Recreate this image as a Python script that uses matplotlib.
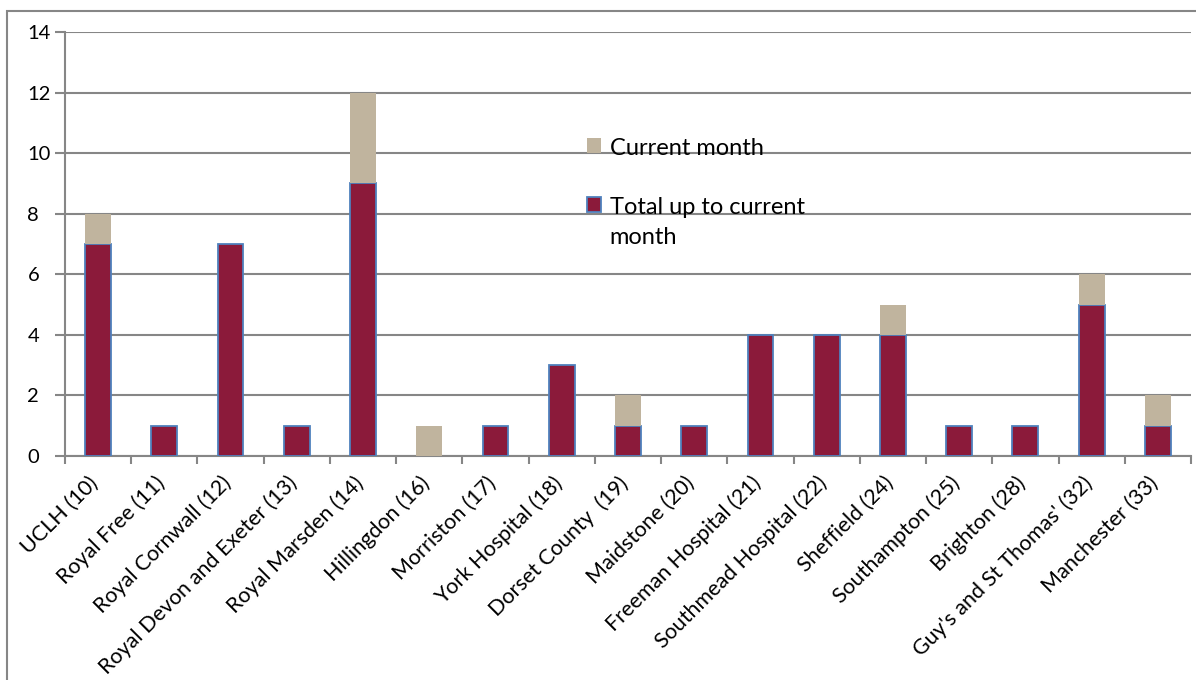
import numpy as np
import matplotlib
matplotlib.use("Agg")
import matplotlib.pyplot as plt
from matplotlib.patches import Rectangle
from matplotlib.offsetbox import HPacker

hospitals = ["UCLH (10)", "Royal Free (11)", "Royal Cornwall (12)",
             "Royal Devon and Exeter (13)", "Royal Marsden (14)", "Hillingdon (16)",
             "Morriston (17)", "York Hospital (18)", "Dorset County  (19)",
             "Maidstone (20)", "Freeman Hospital (21)", "Southmead Hospital (22)",
             "Sheffield (24)", "Southampton (25)", "Brighton (28)",
             "Guy's and St Thomas' (32)", "Manchester (33)"]
total_to_date = [7, 1, 7, 1, 9, 0, 1, 3, 1, 1, 4, 4, 4, 1, 1, 5, 1]
current_month = [1, 0, 0, 0, 3, 1, 0, 0, 1, 0, 0, 0, 1, 0, 0, 1, 1]

plt.rcParams['font.family'] = ['Lato', 'DejaVu Sans']
grey = '#868686'

fig = plt.figure(figsize=(11.96, 6.8), dpi=100)
ax = fig.add_axes([0.0543, 0.3294, 0.9415, 0.6236])

x = np.arange(len(hospitals))
ax.bar(x, total_to_date, width=0.39, color='#8B1A3A', edgecolor='#4F81BD',
       linewidth=1.3, label='Total up to current\nmonth', zorder=3)
ax.bar(x, current_month, width=0.39, bottom=total_to_date, color='#C0B49E',
       linewidth=0, label='Current month', zorder=3)

ax.set_xlim(-0.5, len(hospitals) - 0.5)
ax.set_ylim(0, 14)
ax.set_yticks(range(0, 15, 2))
ax.yaxis.grid(True, color=grey, linewidth=1.5)
ax.set_axisbelow(True)

# labels sit a touch left of the bar centre, like the rotated Excel labels
ax.set_xticks(x - 0.15)
ax.set_xticklabels(hospitals, rotation=45, ha='right', rotation_mode='anchor',
                   fontsize=15.5)
ax.set_xticks(np.arange(-0.5, len(hospitals)), minor=True)
ax.tick_params(axis='x', which='major', length=0, pad=12)
ax.tick_params(axis='x', which='minor', length=6, color=grey, width=1.5, direction='out')
ax.tick_params(axis='y', length=7, color=grey, width=1.5, labelsize=14.5, pad=20)
for lbl in ax.get_yticklabels():
    lbl.set_horizontalalignment('left')

for s in ['top', 'right']:
    ax.spines[s].set_visible(False)
for s in ['left', 'bottom']:
    ax.spines[s].set_color(grey)
    ax.spines[s].set_linewidth(1.5)

handles, labels = ax.get_legend_handles_labels()
leg = ax.legend(handles[::-1], labels[::-1], loc='upper left',
                bbox_to_anchor=(0.445, 0.80), frameon=False, fontsize=17,
                handlelength=0.6, handleheight=0.6, handletextpad=0.35,
                labelspacing=1.6)
leg.texts[1].set_linespacing(1.55)
for pk in leg.findobj(HPacker):
    pk.align = 'top'

fig.add_artist(Rectangle((7 / 1196, -0.05), 1.2, 1.05 - 11 / 680,
                         transform=fig.transFigure, fill=False,
                         edgecolor=grey, linewidth=1.5))

fig.savefig('out.png', dpi=100)
